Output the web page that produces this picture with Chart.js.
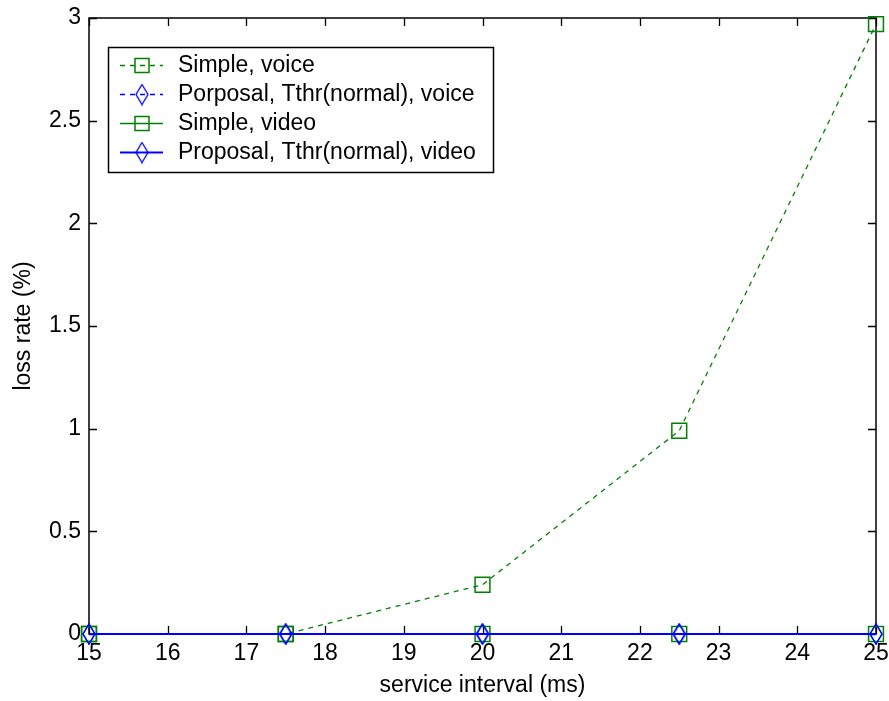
<!DOCTYPE html>
<html>
<head>
<meta charset="utf-8">
<title>loss rate vs service interval</title>
<script src="https://cdn.jsdelivr.net/npm/chart.js@4/dist/chart.umd.min.js"></script>
<style>
  html, body { margin: 0; padding: 0; background: #fff; }
  canvas { display: block; }
</style>
</head>
<body>
<canvas id="lossChart" width="889" height="701"></canvas>
<script>
// service interval (ms) on the x axis
const serviceInterval = [15, 17.5, 20, 22.5, 25];

// loss rate (%) per scheme and traffic class
const simpleVoice = [0, 0, 0.24, 0.99, 2.97];
const proposalVoice = [0, 0, 0, 0, 0];
const simpleVideo = [0, 0, 0, 0, 0];
const proposalVideo = [0, 0, 0, 0, 0];

const xTicks = [15, 16, 17, 18, 19, 20, 21, 22, 23, 24, 25];
const yTicks = [0, 0.5, 1, 1.5, 2, 2.5, 3];

const GREEN = '#008000';
const BLUE = '#0000ff';
const FONT = 'Liberation Sans, Arial, Helvetica, sans-serif';
const FONT_SIZE = 23;

// matlab style diamond: taller than it is wide
function diamondMarker(color) {
    const c = document.createElement('canvas');
    c.width = 14; c.height = 22;
    const g = c.getContext('2d');
    g.strokeStyle = color;
    g.lineWidth = 1.3;
    g.beginPath();
    g.moveTo(7, 1); g.lineTo(13, 11); g.lineTo(7, 21); g.lineTo(1, 11);
    g.closePath();
    g.stroke();
    return c;
}
const blueDiamond = diamondMarker(BLUE);

function toPoints(values) {
    return values.map((v, i) => ({ x: serviceInterval[i], y: v }));
}

const datasets = [
    {
        label: 'Simple, voice',
        data: toPoints(simpleVoice),
        borderColor: GREEN,
        borderWidth: 1.3,
        borderDash: [5, 5],
        pointStyle: 'rect',
        pointRadius: 10.5,
        pointBorderColor: GREEN,
        pointBorderWidth: 1.5,
        pointBackgroundColor: 'rgba(0,0,0,0)',
        order: 4
    },
    {
        label: 'Porposal, Tthr(normal), voice',
        data: toPoints(proposalVoice),
        borderColor: BLUE,
        borderWidth: 1.3,
        borderDash: [5, 5],
        pointStyle: blueDiamond,
        order: 3
    },
    {
        label: 'Simple, video',
        data: toPoints(simpleVideo),
        borderColor: GREEN,
        borderWidth: 1.3,
        pointStyle: 'rect',
        pointRadius: 10.5,
        pointBorderColor: GREEN,
        pointBorderWidth: 1.5,
        pointBackgroundColor: 'rgba(0,0,0,0)',
        order: 2
    },
    {
        label: 'Proposal, Tthr(normal), video',
        data: toPoints(proposalVideo),
        borderColor: BLUE,
        borderWidth: 2,
        pointStyle: blueDiamond,
        order: 1
    }
];
datasets.forEach(ds => { ds.clip = false; ds.tension = 0; });

// axes box with inward ticks on all four sides, under the data
const matlabAxes = {
    id: 'matlabAxes',
    beforeDatasetsDraw(chart) {
        const { ctx, chartArea: a, scales: { x, y } } = chart;
        const len = 8;
        ctx.save();
        ctx.strokeStyle = '#000';
        ctx.lineWidth = 1.5;
        ctx.strokeRect(a.left, a.top, a.right - a.left, a.bottom - a.top);
        ctx.lineWidth = 1.3;
        ctx.beginPath();
        xTicks.forEach(t => {
            const px = Math.round(x.getPixelForValue(t)) + 0.5;
            ctx.moveTo(px, a.bottom); ctx.lineTo(px, a.bottom - len);
            ctx.moveTo(px, a.top); ctx.lineTo(px, a.top + len);
        });
        yTicks.forEach(t => {
            const py = Math.round(y.getPixelForValue(t)) + 0.5;
            ctx.moveTo(a.left, py); ctx.lineTo(a.left + len, py);
            ctx.moveTo(a.right, py); ctx.lineTo(a.right - len, py);
        });
        ctx.stroke();
        ctx.restore();
    }
};

// boxed legend in the upper left of the axes
const boxedLegend = {
    id: 'boxedLegend',
    afterDraw(chart) {
        const { ctx } = chart;
        const box = { x: 108, y: 47, w: 385, h: 125 };
        const rowY = [65, 94, 123, 152];
        ctx.save();
        ctx.fillStyle = '#fff';
        ctx.fillRect(box.x, box.y, box.w, box.h);
        ctx.strokeStyle = '#000';
        ctx.lineWidth = 1.5;
        ctx.strokeRect(box.x + 0.5, box.y + 0.5, box.w, box.h);
        ctx.font = FONT_SIZE + 'px ' + FONT;
        ctx.textBaseline = 'middle';
        datasets.forEach((ds, i) => {
            const yy = rowY[i] + 0.5;
            ctx.strokeStyle = ds.borderColor;
            ctx.lineWidth = ds.borderWidth;
            ctx.setLineDash(ds.borderDash || []);
            ctx.beginPath();
            ctx.moveTo(120, yy); ctx.lineTo(163, yy);
            ctx.stroke();
            ctx.setLineDash([]);
            if (ds.pointStyle === 'rect') {
                ctx.lineWidth = 1.5;
                ctx.strokeRect(135, yy - 7, 14, 14);
            } else {
                ctx.drawImage(ds.pointStyle, 142 - 7, yy - 11);
            }
            ctx.fillStyle = '#000';
            ctx.fillText(ds.label, 178, rowY[i] + 1);
        });
        ctx.restore();
    }
};

new Chart(document.getElementById('lossChart'), {
    type: 'line',
    data: { datasets },
    options: {
        responsive: false,
        animation: false,
        events: [],
        layout: { padding: { left: 10, right: 13, top: 18, bottom: 0 } },
        plugins: {
            legend: { display: false },
            tooltip: { enabled: false }
        },
        scales: {
            x: {
                type: 'linear',
                min: 15,
                max: 25,
                afterBuildTicks: s => { s.ticks = xTicks.map(v => ({ value: v })); },
                afterFit: s => { s.height = 67; s.paddingLeft = 0; s.paddingRight = 0; },
                grid: { display: false, drawTicks: false },
                border: { display: false },
                ticks: {
                    color: '#000',
                    padding: 6,
                    maxRotation: 0,
                    font: { family: FONT, size: FONT_SIZE }
                },
                title: {
                    display: true,
                    text: 'service interval (ms)',
                    color: '#000',
                    padding: { top: 0, bottom: 2 },
                    font: { family: FONT, size: FONT_SIZE }
                }
            },
            y: {
                min: 0,
                max: 3,
                afterBuildTicks: s => { s.ticks = yTicks.map(v => ({ value: v })); },
                afterFit: s => { s.width = 79; s.paddingTop = 0; s.paddingBottom = 0; },
                grid: { display: false, drawTicks: false },
                border: { display: false },
                ticks: {
                    color: '#000',
                    padding: 8,
                    callback: v => String(v),
                    font: { family: FONT, size: FONT_SIZE }
                },
                title: {
                    display: true,
                    text: 'loss rate (%)',
                    color: '#000',
                    padding: 0,
                    font: { family: FONT, size: FONT_SIZE }
                }
            }
        }
    },
    plugins: [matlabAxes, boxedLegend]
});
</script>
</body>
</html>
